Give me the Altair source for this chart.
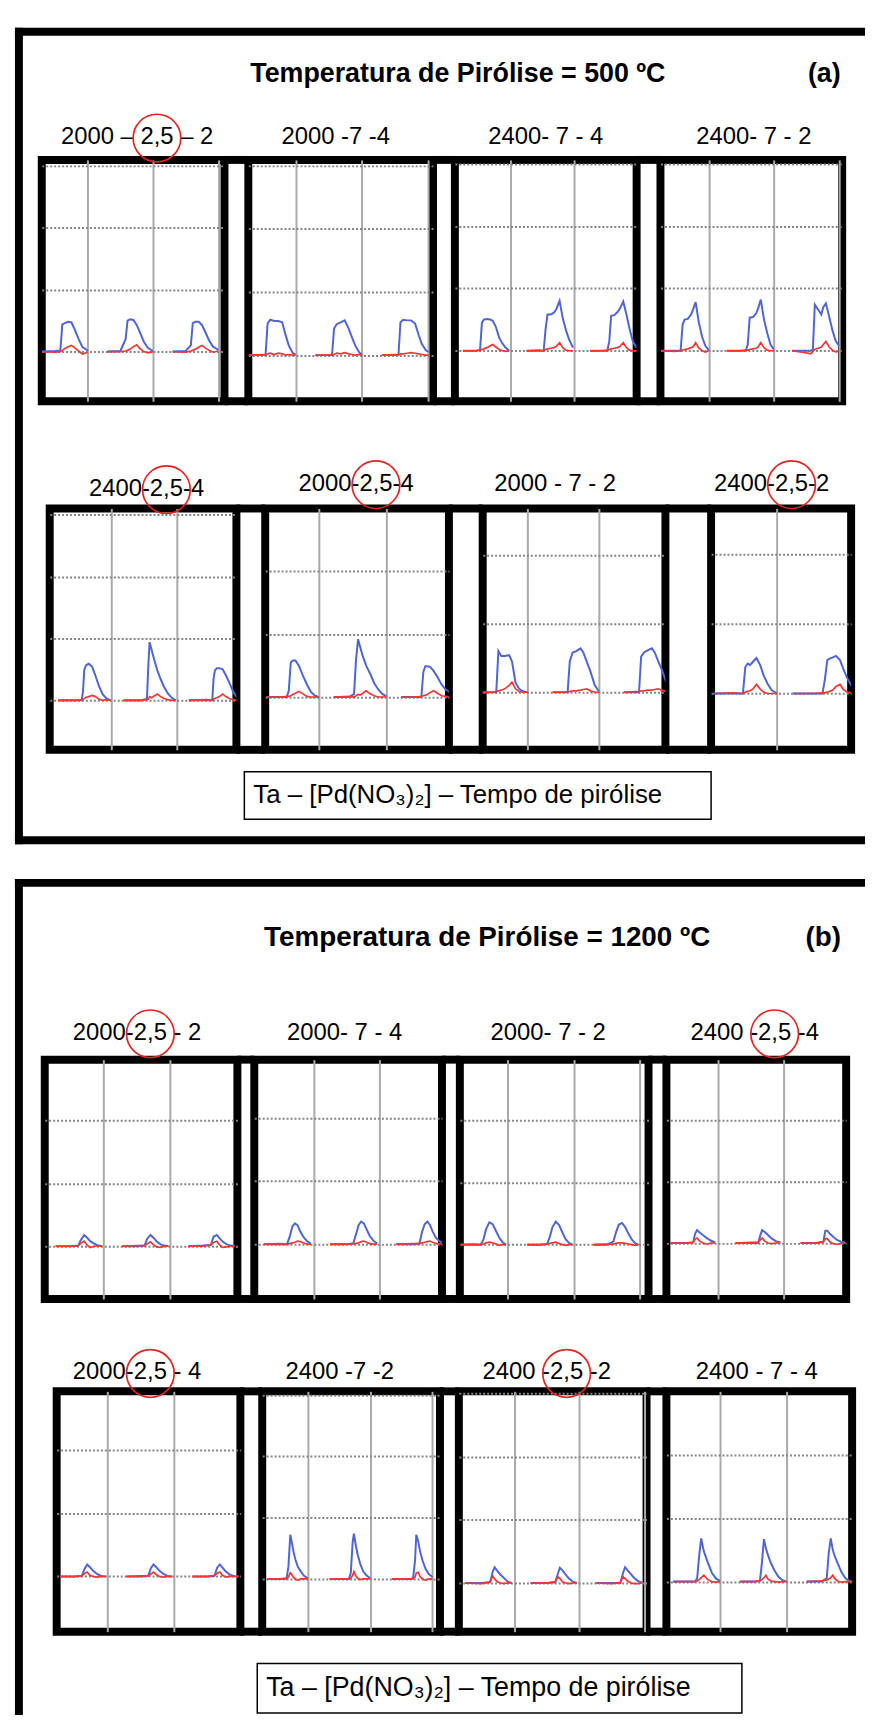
import altair as alt
import pandas as pd

# ------------------------------------------------------------------ texts
TITLE_A = "Temperatura de Pirólise = 500 ºC"
TITLE_B = "Temperatura de Pirólise = 1200 ºC"
TAG_A = "(a)"
TAG_B = "(b)"
CAPTION = "Ta – [Pd(NO₃)₂] – Tempo de pirólise"

LABELS_A1 = ["2000 – 2,5 – 2", "2000 -7 -4", "2400- 7 - 4", "2400- 7 - 2"]
LABELS_A2 = ["2400-2,5-4", "2000-2,5-4", "2000 - 7 - 2", "2400-2,5-2"]
LABELS_B1 = ["2000-2,5 - 2", "2000- 7 - 4", "2000- 7 - 2", "2400 -2,5 -4"]
LABELS_B2 = ["2000-2,5 - 4", "2400 -7 -2", "2400 -2,5 -2", "2400 - 7 - 4"]

# ------------------------------------------------------------------ signals
# T_* : sampling offsets inside one replicate (grid units); replicate k is shifted by k
# AA_* : blue trace (atomic signal), BG_* : red trace (background), one list per replicate

# ---- 500 C, row 1
T_A1_1 = [0.30, 0.50, 0.58, 0.61, 0.65, 0.70, 0.75, 0.80, 0.86, 0.92, 1.00]
AA_A1_1 = [[0.00, 0.01, 0.02, 0.44, 0.46, 0.48, 0.47, 0.36, 0.20, 0.07, 0.02],
           [0.00, 0.01, 0.20, 0.50, 0.52, 0.51, 0.43, 0.31, 0.16, 0.06, 0.01],
           [0.00, 0.01, 0.10, 0.46, 0.48, 0.48, 0.43, 0.32, 0.18, 0.08, 0.03]]
BG_A1_1 = [[0.00, -0.01, 0.00, 0.02, 0.05, 0.08, 0.10, 0.06, 0.01, -0.04, -0.01],
           [0.00, 0.00, 0.01, 0.02, 0.04, 0.08, 0.11, 0.05, 0.00, -0.02, 0.00],
           [0.00, -0.01, 0.01, 0.02, 0.04, 0.07, 0.10, 0.06, 0.02, -0.01, 0.01]]

T_A1_2 = [0.30, 0.50, 0.55, 0.58, 0.62, 0.68, 0.74, 0.80, 0.85, 0.90, 0.96, 1.00]
AA_A1_2 = [[0.00, 0.00, 0.01, 0.50, 0.56, 0.54, 0.54, 0.52, 0.32, 0.15, 0.03, 0.01],
           [0.00, 0.00, 0.00, 0.42, 0.49, 0.52, 0.55, 0.42, 0.28, 0.15, 0.04, 0.01],
           [0.00, 0.00, 0.01, 0.52, 0.56, 0.55, 0.55, 0.50, 0.33, 0.18, 0.08, 0.05]]
BG_A1_2 = [[0.00, 0.01, 0.00, 0.02, 0.03, 0.01, 0.03, 0.02, 0.00, 0.01, 0.00, 0.00],
           [0.00, 0.00, 0.01, 0.01, 0.03, 0.02, 0.04, 0.02, 0.01, 0.00, 0.01, 0.00],
           [0.00, 0.01, 0.00, 0.02, 0.02, 0.03, 0.04, 0.03, 0.02, 0.01, 0.00, 0.00]]

T_A1_3 = [0.25, 0.45, 0.52, 0.55, 0.58, 0.63, 0.68, 0.72, 0.77, 0.82, 0.87, 0.92, 0.98]
AA_A1_3 = [[0.00, 0.00, 0.01, 0.45, 0.50, 0.51, 0.50, 0.48, 0.38, 0.21, 0.12, 0.05, 0.00],
           [0.00, 0.00, 0.00, 0.35, 0.58, 0.58, 0.61, 0.67, 0.80, 0.52, 0.33, 0.18, 0.05],
           [0.00, 0.00, 0.00, 0.15, 0.56, 0.57, 0.62, 0.68, 0.79, 0.58, 0.35, 0.15, 0.05]]
BG_A1_3 = [[0.00, 0.00, 0.01, 0.02, 0.03, 0.05, 0.08, 0.10, 0.06, 0.02, 0.00, -0.01, 0.00],
           [0.00, 0.01, 0.00, 0.02, 0.03, 0.04, 0.05, 0.07, 0.13, 0.05, 0.01, 0.00, 0.00],
           [0.00, 0.00, 0.01, 0.02, 0.03, 0.04, 0.05, 0.07, 0.13, 0.05, 0.01, 0.00, 0.00]]

T_A1_4 = [0.28, 0.48, 0.57, 0.60, 0.63, 0.68, 0.73, 0.76, 0.80, 0.85, 0.90, 0.95, 1.00]
AA_A1_4 = [[0.00, 0.00, 0.00, 0.42, 0.50, 0.51, 0.58, 0.66, 0.78, 0.45, 0.22, 0.08, 0.01],
           [0.00, 0.00, 0.00, 0.10, 0.53, 0.54, 0.60, 0.68, 0.82, 0.50, 0.28, 0.10, 0.02],
           [0.00, 0.00, 0.00, 0.02, 0.74, 0.66, 0.58, 0.70, 0.76, 0.55, 0.33, 0.16, 0.08]]
BG_A1_4 = [[0.00, -0.01, 0.00, 0.01, 0.02, 0.03, 0.05, 0.06, 0.13, 0.04, 0.00, -0.02, 0.00],
           [0.00, 0.00, 0.01, 0.01, 0.02, 0.03, 0.04, 0.06, 0.13, 0.05, 0.01, 0.00, 0.00],
           [0.00, -0.03, -0.05, -0.01, 0.02, 0.04, 0.06, 0.10, 0.15, 0.06, 0.01, -0.02, -0.01]]

# ---- 500 C, row 2
T_A2_1 = [0.18, 0.45, 0.54, 0.56, 0.58, 0.61, 0.65, 0.70, 0.75, 0.80, 0.86, 0.92, 0.98]
AA_A2_1 = [[0.00, 0.00, 0.00, 0.15, 0.50, 0.57, 0.59, 0.54, 0.40, 0.24, 0.10, 0.03, 0.00],
           [0.00, 0.00, 0.02, 0.55, 0.94, 0.82, 0.66, 0.48, 0.34, 0.22, 0.11, 0.04, 0.00],
           [0.00, 0.00, 0.00, 0.35, 0.48, 0.52, 0.52, 0.50, 0.40, 0.29, 0.14, 0.05, 0.01]]
BG_A2_1 = [[0.00, 0.00, 0.01, 0.02, 0.03, 0.05, 0.06, 0.08, 0.06, 0.02, 0.00, 0.01, 0.00],
           [0.00, 0.00, 0.01, 0.02, 0.06, 0.04, 0.07, 0.10, 0.06, 0.03, 0.01, 0.00, 0.00],
           [0.00, 0.01, 0.00, 0.02, 0.03, 0.04, 0.06, 0.10, 0.06, 0.03, 0.01, 0.00, 0.00]]

T_A2_2 = [0.22, 0.45, 0.52, 0.55, 0.58, 0.61, 0.65, 0.70, 0.76, 0.82, 0.88, 0.94, 1.00]
AA_A2_2 = [[0.00, 0.00, 0.00, 0.10, 0.55, 0.58, 0.58, 0.50, 0.34, 0.20, 0.08, 0.02, 0.00],
           [0.00, 0.00, 0.05, 0.60, 0.92, 0.80, 0.65, 0.50, 0.37, 0.22, 0.12, 0.05, 0.01],
           [0.00, 0.00, 0.00, 0.40, 0.49, 0.49, 0.48, 0.42, 0.32, 0.20, 0.12, 0.08, 0.05]]
BG_A2_2 = [[0.00, 0.00, 0.01, 0.01, 0.02, 0.04, 0.06, 0.09, 0.05, 0.01, 0.00, 0.00, 0.00],
           [0.00, 0.01, 0.00, 0.02, 0.04, 0.03, 0.06, 0.10, 0.05, 0.02, 0.00, 0.00, 0.00],
           [0.00, 0.00, 0.01, 0.02, 0.03, 0.04, 0.07, 0.10, 0.06, 0.02, 0.01, 0.00, 0.00]]

T_A2_3 = [0.35, 0.50, 0.56, 0.59, 0.63, 0.68, 0.74, 0.78, 0.83, 0.88, 0.94, 1.00]
AA_A2_3 = [[0.00, 0.00, 0.00, 0.60, 0.53, 0.53, 0.54, 0.45, 0.14, 0.05, 0.01, 0.00],
           [0.00, 0.00, 0.00, 0.45, 0.58, 0.60, 0.64, 0.58, 0.44, 0.30, 0.10, 0.01],
           [0.00, 0.00, 0.00, 0.52, 0.58, 0.61, 0.64, 0.58, 0.45, 0.33, 0.15, 0.05]]
BG_A2_3 = [[0.00, 0.00, 0.01, 0.02, 0.03, 0.05, 0.10, 0.145, 0.05, 0.01, 0.00, 0.00],
           [0.00, 0.00, 0.01, 0.01, 0.02, 0.02, 0.03, 0.04, 0.05, 0.02, 0.00, 0.00],
           [0.00, 0.01, 0.01, 0.02, 0.02, 0.03, 0.03, 0.04, 0.05, 0.03, 0.01, 0.01]]

T_A2_4 = [0.20, 0.45, 0.57, 0.60, 0.63, 0.66, 0.70, 0.74, 0.79, 0.83, 0.88, 0.93, 1.00]
AA_A2_4 = [[0.00, 0.00, 0.00, 0.38, 0.43, 0.41, 0.46, 0.51, 0.40, 0.26, 0.14, 0.05, 0.00],
           [0.00, 0.00, 0.00, 0.20, 0.48, 0.50, 0.52, 0.54, 0.48, 0.36, 0.22, 0.12, 0.05]]
BG_A2_4 = [[0.00, 0.01, 0.00, 0.02, 0.03, 0.04, 0.07, 0.13, 0.06, 0.02, 0.00, 0.00, 0.00],
           [0.00, 0.00, 0.01, 0.01, 0.02, 0.03, 0.05, 0.10, 0.13, 0.06, 0.02, 0.01, 0.00]]

# ---- 1200 C, row 1
T_B1_1 = [0.28, 0.50, 0.62, 0.66, 0.71, 0.75, 0.80, 0.86, 0.92, 0.98]
AA_B1_1 = [[0.00, 0.00, 0.01, 0.10, 0.18, 0.14, 0.08, 0.04, 0.01, 0.00],
           [0.00, 0.00, 0.01, 0.12, 0.18, 0.14, 0.08, 0.03, 0.01, 0.00],
           [0.00, 0.01, 0.02, 0.15, 0.18, 0.13, 0.07, 0.03, 0.01, 0.00]]
BG_B1_1 = [[0.00, 0.00, 0.01, 0.05, 0.08, 0.02, -0.02, 0.00, 0.01, 0.00],
           [0.00, 0.01, 0.01, 0.04, 0.07, 0.03, -0.01, -0.02, 0.00, 0.00],
           [0.00, 0.00, 0.02, 0.06, 0.08, 0.02, -0.02, -0.01, 0.00, 0.00]]

T_B1_2 = [0.25, 0.50, 0.60, 0.64, 0.68, 0.72, 0.76, 0.80, 0.85, 0.90, 0.96]
AA_B1_2 = [[0.00, 0.00, 0.00, 0.12, 0.28, 0.33, 0.30, 0.20, 0.11, 0.05, 0.01],
           [0.00, 0.00, 0.01, 0.15, 0.30, 0.36, 0.33, 0.24, 0.13, 0.06, 0.01],
           [0.00, 0.00, 0.01, 0.20, 0.32, 0.36, 0.30, 0.20, 0.10, 0.05, 0.02]]
BG_B1_2 = [[0.00, 0.01, 0.00, 0.01, 0.02, 0.03, 0.05, 0.04, 0.02, 0.00, 0.00],
           [0.00, 0.00, 0.01, 0.01, 0.02, 0.04, 0.05, 0.03, 0.01, 0.00, 0.00],
           [0.00, 0.01, 0.01, 0.02, 0.03, 0.04, 0.05, 0.03, 0.01, 0.01, 0.00]]

T_B1_3 = [0.30, 0.50, 0.60, 0.64, 0.68, 0.73, 0.78, 0.83, 0.88, 0.93, 0.98]
AA_B1_3 = [[0.00, 0.00, 0.00, 0.08, 0.25, 0.36, 0.33, 0.22, 0.11, 0.04, 0.00],
           [0.00, 0.00, 0.01, 0.12, 0.28, 0.37, 0.32, 0.20, 0.09, 0.03, 0.00],
           [0.00, 0.00, 0.05, 0.20, 0.32, 0.35, 0.28, 0.17, 0.08, 0.02, 0.00]]
BG_B1_3 = [[0.00, 0.01, 0.00, 0.01, 0.03, 0.04, 0.03, 0.01, -0.01, 0.00, 0.00],
           [0.00, 0.00, 0.01, 0.02, 0.03, 0.04, 0.02, 0.00, -0.01, 0.00, 0.00],
           [0.00, 0.01, 0.01, 0.02, 0.03, 0.03, 0.02, 0.01, 0.00, -0.01, 0.00]]

T_B1_4 = [0.26, 0.50, 0.61, 0.64, 0.67, 0.71, 0.76, 0.82, 0.88, 0.95]
AA_B1_4 = [[0.00, 0.00, 0.01, 0.15, 0.21, 0.17, 0.13, 0.08, 0.04, 0.01],
           [0.00, 0.00, 0.00, 0.12, 0.21, 0.18, 0.13, 0.07, 0.03, 0.01],
           [0.00, 0.00, 0.02, 0.20, 0.20, 0.15, 0.10, 0.05, 0.02, 0.01]]
BG_B1_4 = [[0.00, 0.00, 0.01, 0.06, 0.08, 0.03, 0.00, -0.02, 0.00, 0.00],
           [0.00, 0.01, 0.01, 0.05, 0.08, 0.03, 0.00, -0.01, 0.00, 0.00],
           [0.00, 0.00, 0.02, 0.07, 0.07, 0.02, -0.01, -0.02, -0.01, 0.00]]

# ---- 1200 C, row 2
T_B2_1 = [0.28, 0.50, 0.61, 0.65, 0.69, 0.73, 0.78, 0.84, 0.90, 0.97]
AA_B2_1 = [[0.00, 0.00, 0.01, 0.12, 0.19, 0.15, 0.09, 0.04, 0.01, 0.00],
           [0.00, 0.00, 0.01, 0.13, 0.19, 0.15, 0.09, 0.04, 0.01, 0.00],
           [0.00, 0.00, 0.01, 0.14, 0.19, 0.14, 0.08, 0.03, 0.01, 0.00]]
BG_B2_1 = [[0.00, 0.00, 0.01, 0.05, 0.07, 0.02, 0.00, -0.01, 0.00, 0.00],
           [0.00, 0.01, 0.01, 0.04, 0.07, 0.03, 0.00, -0.01, 0.00, 0.00],
           [0.00, 0.00, 0.02, 0.05, 0.07, 0.02, -0.01, 0.00, 0.00, 0.00]]

T_B2_2 = [0.35, 0.55, 0.66, 0.69, 0.72, 0.74, 0.77, 0.80, 0.84, 0.89, 0.94, 1.00]
AA_B2_2 = [[0.00, 0.00, 0.01, 0.20, 0.72, 0.62, 0.45, 0.32, 0.20, 0.12, 0.05, 0.01],
           [0.00, 0.00, 0.00, 0.10, 0.60, 0.74, 0.55, 0.40, 0.25, 0.12, 0.06, 0.01],
           [0.00, 0.00, 0.00, 0.02, 0.30, 0.72, 0.62, 0.45, 0.30, 0.16, 0.08, 0.03]]
BG_B2_2 = [[0.00, 0.00, 0.00, 0.03, 0.10, 0.08, 0.03, 0.00, -0.02, 0.00, 0.00, 0.00],
           [0.00, 0.00, 0.00, 0.01, 0.06, 0.12, 0.05, 0.01, -0.01, 0.00, 0.00, 0.00],
           [0.00, 0.00, 0.00, 0.00, 0.03, 0.10, 0.11, 0.04, 0.00, -0.02, 0.00, 0.00]]

T_B2_3 = [0.25, 0.50, 0.63, 0.67, 0.70, 0.74, 0.79, 0.84, 0.90, 0.96]
AA_B2_3 = [[0.00, 0.00, 0.01, 0.18, 0.25, 0.19, 0.13, 0.08, 0.02, 0.00],
           [0.00, 0.00, 0.01, 0.15, 0.24, 0.20, 0.13, 0.07, 0.02, 0.00],
           [0.00, 0.00, 0.00, 0.16, 0.25, 0.20, 0.14, 0.08, 0.03, 0.01]]
BG_B2_3 = [[0.00, -0.01, 0.02, 0.11, 0.06, 0.02, 0.00, -0.01, 0.00, 0.00],
           [0.00, 0.00, 0.02, 0.10, 0.07, 0.02, 0.00, -0.01, 0.00, 0.00],
           [0.00, -0.01, 0.01, 0.10, 0.07, 0.03, 0.00, -0.01, -0.01, 0.00]]

T_B2_4 = [0.30, 0.52, 0.60, 0.63, 0.66, 0.69, 0.72, 0.76, 0.82, 0.88, 0.94, 1.00]
AA_B2_4 = [[0.00, 0.00, 0.00, 0.00, 0.05, 0.40, 0.68, 0.48, 0.30, 0.14, 0.05, 0.01],
           [0.00, 0.00, 0.01, 0.30, 0.67, 0.52, 0.42, 0.30, 0.17, 0.07, 0.02, 0.00],
           [0.00, 0.00, 0.05, 0.45, 0.68, 0.50, 0.40, 0.30, 0.15, 0.05, 0.01, 0.00]]
BG_B2_4 = [[0.00, 0.00, 0.00, 0.00, 0.01, 0.03, 0.06, 0.10, 0.03, 0.00, -0.01, 0.00],
           [0.00, 0.00, 0.01, 0.03, 0.06, 0.10, 0.04, 0.01, 0.00, -0.01, 0.00, 0.00],
           [0.00, 0.01, 0.02, 0.04, 0.06, 0.10, 0.05, 0.01, -0.01, 0.00, 0.00, 0.00]]

# ------------------------------------------------------------------ scale windows (grid units)
XDOM = {
    "A1": [[0.295, 3.096], [0.29, 3.07], [0.125, 2.98], [0.26, 3.05]],
    "A2": [[0.05, 2.91], [0.20, 2.93], [0.37, 2.93], [0.17, 1.93]],
    "B1": [[0.115, 3.02], [0.105, 2.94], [0.285, 3.13], [0.20, 2.96]],
    "B2": [[0.23, 3.0], [0.27, 3.12], [0.15, 3.03], [0.20, 2.98]],
}
YDOM = {
    "A1": [[-0.80, 3.09], [-0.73, 3.09], [-0.81, 3.06], [-0.81, 3.06]],
    "A2": [[-0.80, 3.10], [-0.84, 3.00], [-0.84, 2.68], [-0.81, 2.66]],
    "B1": [[-0.84, 2.97], [-0.87, 2.93], [-0.875, 2.98], [-0.91, 2.98]],
    "B2": [[-0.87, 2.92], [-0.86, 3.06], [-0.77, 3.03], [-0.79, 3.00]],
}

# ------------------------------------------------------------------ layout (page pixels)
X0 = 11          # left edge of the panel frames
HW = 856         # width of the header / frame bars
ROWS = {
    "A1": dict(top=151, h=243, lefts=[38, 246, 454, 661], rights=[222, 432, 637, 844],
               lab_y=[128, 128, 128, 128], lab_x=[134, 334, 545.5, 755]),
    "A2": dict(top=502, h=243, lefts=[46, 263, 482, 712], rights=[234, 448, 666, 853],
               lab_y=[482, 477, 477, 477], lab_x=[143.5, 354.5, 555, 773]),
    "B1": dict(top=1057, h=241, lefts=[41, 252, 459, 667], rights=[235, 441, 649, 848],
               lab_y=[1030, 1030, 1030, 1030], lab_x=[134, 343, 548, 756]),
    "B2": dict(top=1391, h=242, lefts=[53, 260, 458, 667], rights=[238, 439, 647, 854],
               lab_y=[1372, 1372, 1372, 1372], lab_x=[134, 338, 546.5, 758]),
}

FONT = "Liberation Sans"
LABEL_SIZE = 24
BLUE = "#5064d4"
RED = "#f53535"
VGRID = "#a9a9a9"
HGRID = "#858585"
CIRCLE = "#e02424"
CIRCLE_D = 48

ADV = {" ": 0.278, "-": 0.333, "–": 0.556, ",": 0.278}


def tw(s):
    return sum(ADV.get(c, 0.556) for c in s) * LABEL_SIZE


def make_df(T, AA, BG):
    recs = []
    for k in range(len(AA)):
        for t, a, b in zip(T, AA[k], BG[k]):
            recs.append({"x": k + t, "y": a, "serie": "AA", "rep": k})
            recs.append({"x": k + t, "y": b, "serie": "BG", "rep": k})
    return pd.DataFrame(recs)


SIGNALS = {
    "A1": [(T_A1_1, AA_A1_1, BG_A1_1), (T_A1_2, AA_A1_2, BG_A1_2), (T_A1_3, AA_A1_3, BG_A1_3), (T_A1_4, AA_A1_4, BG_A1_4)],
    "A2": [(T_A2_1, AA_A2_1, BG_A2_1), (T_A2_2, AA_A2_2, BG_A2_2), (T_A2_3, AA_A2_3, BG_A2_3), (T_A2_4, AA_A2_4, BG_A2_4)],
    "B1": [(T_B1_1, AA_B1_1, BG_B1_1), (T_B1_2, AA_B1_2, BG_B1_2), (T_B1_3, AA_B1_3, BG_B1_3), (T_B1_4, AA_B1_4, BG_B1_4)],
    "B2": [(T_B2_1, AA_B2_1, BG_B2_1), (T_B2_2, AA_B2_2, BG_B2_2), (T_B2_3, AA_B2_3, BG_B2_3), (T_B2_4, AA_B2_4, BG_B2_4)],
}
LABELS = {"A1": LABELS_A1, "A2": LABELS_A2, "B1": LABELS_B1, "B2": LABELS_B2}

ONE = pd.DataFrame({"k": [0]})


def subplot(df, xd, yd, w, h, label, lx, ly):
    xv = [v for v in (1, 2, 3) if xd[0] + 0.02 < v < xd[1] - 0.02]
    yv = [v for v in (0, 1, 2, 3) if yd[0] < v <= yd[1] - 0.02]
    X = alt.X("x:Q", scale=alt.Scale(domain=xd, nice=False, zero=False),
              axis=alt.Axis(values=xv, grid=True, gridColor=VGRID, gridWidth=2,
                            labels=False, ticks=False, domain=False, title=""))
    Y = alt.Y("y:Q", scale=alt.Scale(domain=yd, nice=False, zero=False),
              axis=alt.Axis(values=yv, grid=True, gridColor=HGRID, gridDash=[2, 2], gridWidth=2,
                            labels=False, ticks=False, domain=False, title=""))
    base = alt.Chart(df)
    aa = base.transform_filter("datum.serie == 'AA'").mark_line(
        color=BLUE, strokeWidth=2, clip=True).encode(x=X, y=Y, detail="rep:N")
    bg = base.transform_filter("datum.serie == 'BG'").mark_line(
        color=RED, strokeWidth=1.7, clip=True).encode(x=X, y=Y, detail="rep:N")
    lab = alt.Chart(pd.DataFrame({"label": [label]})).mark_text(
        font=FONT, fontSize=LABEL_SIZE, align="center", baseline="middle", color="black"
    ).encode(text="label:N", x=alt.value(lx), y=alt.value(ly))
    layers = [aa, bg, lab]
    if "2,5" in label:
        i = label.index("2,5")
        off = tw(label[:i]) + tw("2,5") / 2 - tw(label) / 2
        circ = alt.Chart(ONE).mark_point(
            shape="circle", filled=False, size=CIRCLE_D ** 2, color=CIRCLE,
            strokeWidth=1.7, opacity=1
        ).encode(x=alt.value(lx + off), y=alt.value(ly + 1))
        layers.append(circ)
    return alt.layer(*layers).properties(
        width=w, height=h, view=alt.ViewBackground(stroke="black", strokeWidth=8))


def spacer(w, h, bars=False):
    d = alt.Chart(ONE)
    if bars:
        top = d.mark_rule(color="black", strokeWidth=8).encode(
            x=alt.value(0), x2=alt.value(w), y=alt.value(0))
        bot = d.mark_rule(color="black", strokeWidth=8).encode(
            x=alt.value(0), x2=alt.value(w), y=alt.value(h))
        ch = alt.layer(top, bot)
    else:
        ch = d.mark_point(opacity=0).encode(x=alt.value(0), y=alt.value(0))
    return ch.properties(width=w, height=h, view=alt.ViewBackground(strokeWidth=0))


def header(h, title, tag, tsize, tx, ty, tagx, bar_len):
    d = alt.Chart(ONE)
    topbar = d.mark_rule(color="black", strokeWidth=8).encode(
        x=alt.value(0), x2=alt.value(HW), y=alt.value(4))
    leftbar = d.mark_rule(color="black", strokeWidth=8).encode(
        x=alt.value(4), y=alt.value(0), y2=alt.value(bar_len))
    t1 = alt.Chart(pd.DataFrame({"t": [title]})).mark_text(
        font=FONT, fontSize=tsize, fontWeight="bold", align="center", baseline="middle", color="black"
    ).encode(text="t:N", x=alt.value(tx), y=alt.value(ty))
    t2 = alt.Chart(pd.DataFrame({"t": [tag]})).mark_text(
        font=FONT, fontSize=tsize, fontWeight="bold", align="center", baseline="middle", color="black"
    ).encode(text="t:N", x=alt.value(tagx), y=alt.value(ty))
    return alt.layer(topbar, leftbar, t1, t2).properties(
        width=HW, height=h, view=alt.ViewBackground(strokeWidth=0))


def row(key):
    L = ROWS[key]
    h = L["h"]
    items = [spacer(L["lefts"][0] - X0, h)]
    for i in range(4):
        T, AA, BG = SIGNALS[key][i]
        w = L["rights"][i] - L["lefts"][i]
        items.append(subplot(make_df(T, AA, BG), XDOM[key][i], YDOM[key][i], w, h,
                             LABELS[key][i], L["lab_x"][i] - L["lefts"][i], L["lab_y"][i] - L["top"]))
        if i < 3:
            items.append(spacer(L["lefts"][i + 1] - L["rights"][i], h, bars=True))
    return alt.hconcat(*items, spacing=0, bounds="flush")


def caption(left, w, h, size):
    txt = alt.Chart(pd.DataFrame({"t": [CAPTION]})).mark_text(
        font=FONT, fontSize=size, align="left", baseline="middle", color="black"
    ).encode(text="t:N", x=alt.value(9), y=alt.value(h / 2))
    box = txt.properties(width=w, height=h,
                         view=alt.ViewBackground(stroke="black", strokeWidth=1.5))
    return alt.hconcat(spacer(left - X0, h), box, spacing=0, bounds="flush")


def bottom_bar(h, y):
    r = alt.Chart(ONE).mark_rule(color="black", strokeWidth=8).encode(
        x=alt.value(0), x2=alt.value(HW), y=alt.value(y))
    return r.properties(width=HW, height=h, view=alt.ViewBackground(strokeWidth=0))


# In a flush vertical stack a nested row group takes no height of its own,
# so the spacer that follows each row carries the row height plus the gap.
chart = alt.vconcat(
    header(133, TITLE_A, TAG_A, 27, 446, 47, 815, 822),
    row("A1"),
    spacer(1, 243 + 108),
    row("A2"),
    spacer(1, 243 + 22),
    caption(242, 470, 48, 26),
    spacer(1, 48),
    bottom_bar(25, 21),
    spacer(1, 35),
    header(182, TITLE_B, TAG_B, 28, 475.5, 60, 814, 842),
    row("B1"),
    spacer(1, 241 + 93),
    row("B2"),
    spacer(1, 242 + 32),
    caption(255, 488, 50, 27),
    spacer(1, 50),
    spacing=0,
    bounds="flush",
).properties(
    padding={"left": 3, "top": 10, "right": 0, "bottom": 0}
).configure_view(strokeWidth=0)

chart.save("out.html", embed_options={"renderer": "svg", "actions": False})
